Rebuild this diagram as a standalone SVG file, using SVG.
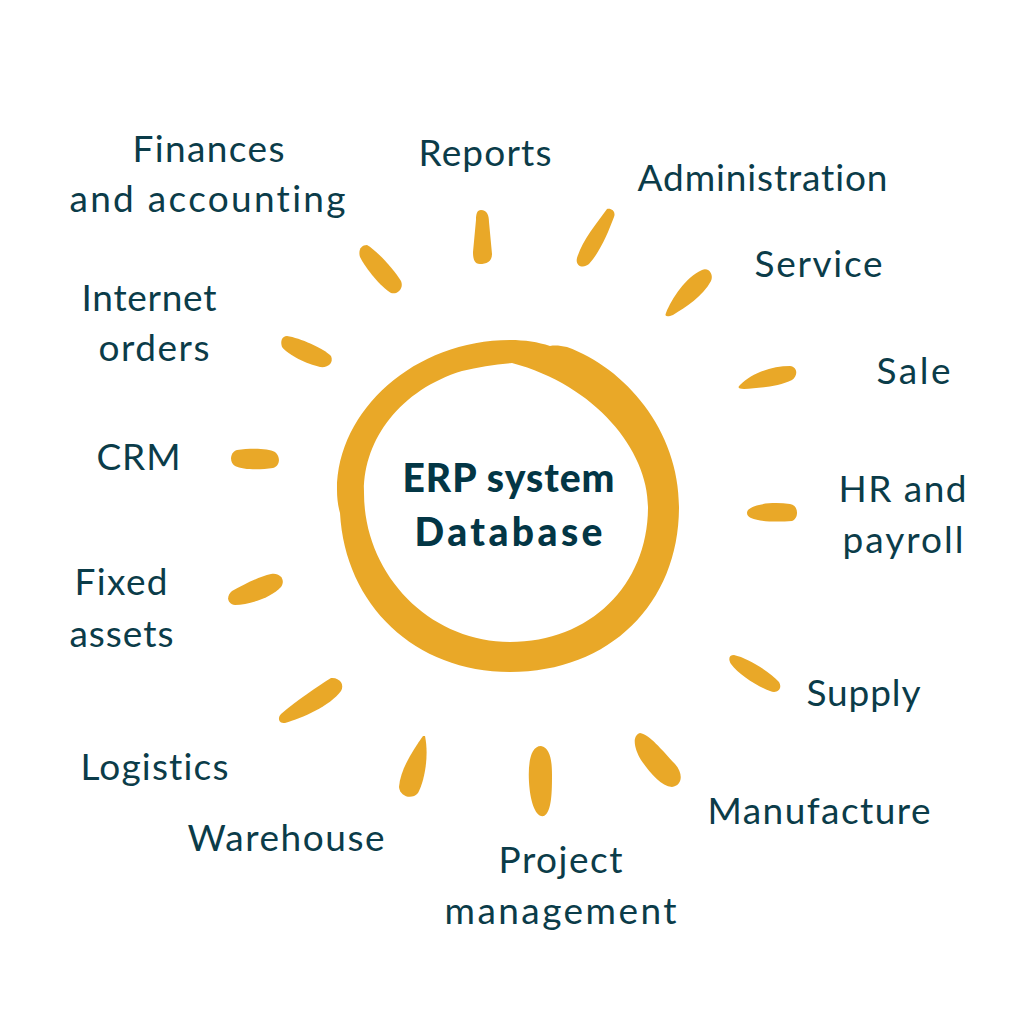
<svg xmlns="http://www.w3.org/2000/svg" width="1024" height="1024" viewBox="0 0 1024 1024">
<style>
.l{font-family:"Lato","Open Sans",sans-serif;font-size:37px;fill:#0b3c49;text-anchor:middle;font-variant-ligatures:none}
.t{font-family:"Lato","Open Sans",sans-serif;font-size:39px;font-weight:900;fill:#033645;text-anchor:middle;font-variant-ligatures:none}
.r{fill:#e9a828}
</style>
<rect width="1024" height="1024" fill="#fff"/>
<g id="connectors">
<path class="r" d="M481 210C487 210 489 215 489 222L492 254C492 262 486 264 480 264C474 264 473 258 473 252L476 220C476 214 477 210 481 210Z"/>
<path class="r" d="M607 209C612 208 616 212 614 217C608 233 600 252 589 264C583 269 575 266 577 258C582 241 596 224 607 209Z"/>
<path class="r" d="M666 313C672 298 686 277 702 270C709 267 714 275 711 281C703 296 686 307 673 315C668 317 664 317 666 313Z"/>
<path class="r" d="M740 385C752 373 772 366 790 366C798 367 798 376 792 380C778 387 758 388 744 389C739 389 737 388 740 385Z"/>
<path class="r" d="M748 510C755 503 775 502 790 504C799 505 799 519 792 521C778 522 760 522 751 518C747 516 746 513 748 510Z"/>
<path class="r" d="M734 655C748 658 770 672 779 682C783 689 777 694 770 691C757 686 739 675 731 664C728 659 729 655 734 655Z"/>
<path class="r" d="M640 733C650 735 661 749 675 764C684 774 682 786 672 787C661 786 650 773 641 760C635 750 631 736 640 733Z"/>
<path class="r" d="M541 746C550 748 552 760 552 775C552 790 552 812 544 816C535 818 530 800 529 782C528 765 530 746 541 746Z"/>
<path class="r" d="M425 736C429 755 425 780 418 793C412 800 400 797 399 787C400 770 413 750 423 736Z"/>
<path class="r" d="M331 678C339 677 345 684 341 691C330 706 302 718 285 723C279 724 277 718 281 714C296 701 318 686 331 678Z"/>
<path class="r" d="M271 574C280 572 286 580 281 587C272 597 250 605 235 605C227 604 226 596 232 591C243 585 258 577 271 574Z"/>
<path class="r" d="M237 450C250 448 268 448 275 452C281 457 280 466 273 468C260 470 243 470 235 466C229 462 230 452 237 450Z"/>
<path class="r" d="M287 336C300 338 323 348 331 356C334 363 328 368 320 367C307 364 288 355 282 347C280 341 282 336 287 336Z"/>
<path class="r" d="M367 245C376 250 393 268 401 281C404 288 398 295 391 293C381 287 366 269 360 257C358 250 361 245 367 245Z"/>
</g>
<g id="center">
<path class="r" fill-rule="evenodd" d="M337 490C337 410 415 340 510 340C525 340 538 342 550 346C556 345 561 346 567 347C625 368 679 430 679 507C679 603 610 672 510 672C415 672 345 605 340 513C338 506 337 498 337 490ZM512 363C495 364 478 367 462 371C400 390 363 440 364 493C364 575 430 642 510 642C590 642 648 585 648 507C648 450 595 385 512 363Z"/>
<text class="t" x="508.500" y="492" textLength="212">ERP system</text>
<text class="t" x="508.500" y="546" textLength="188">Database</text>
</g>
<g id="n-finances"><text class="l" x="208.500" y="162" textLength="152">Finances</text><text class="l" x="207.500" y="212" textLength="276">and accounting</text></g>
<g id="n-reports"><text class="l" x="485" y="166" textLength="133">Reports</text></g>
<g id="n-admin"><text class="l" x="762.500" y="191" textLength="250">Administration</text></g>
<g id="n-service"><text class="l" x="818.500" y="277" textLength="128">Service</text></g>
<g id="n-sale"><text class="l" x="913.500" y="384" textLength="74">Sale</text></g>
<g id="n-hr"><text class="l" x="902.500" y="502" textLength="128">HR and</text><text class="l" x="903" y="553" textLength="121">payroll</text></g>
<g id="n-supply"><text class="l" x="863.500" y="706" textLength="114">Supply</text></g>
<g id="n-manufacture"><text class="l" x="819" y="824" textLength="223">Manufacture</text></g>
<g id="n-project"><text class="l" x="560.500" y="873" textLength="124">Project</text><text class="l" x="560.500" y="924" textLength="232">management</text></g>
<g id="n-warehouse"><text class="l" x="286" y="851" textLength="197">Warehouse</text></g>
<g id="n-logistics"><text class="l" x="154.500" y="780" textLength="148">Logistics</text></g>
<g id="n-fixed"><text class="l" x="121" y="595" textLength="93">Fixed</text><text class="l" x="121.500" y="647" textLength="104">assets</text></g>
<g id="n-crm"><text class="l" x="138.500" y="470" textLength="84">CRM</text></g>
<g id="n-internet"><text class="l" x="149" y="311" textLength="135">Internet</text><text class="l" x="154" y="361" textLength="111">orders</text></g>
</svg>
